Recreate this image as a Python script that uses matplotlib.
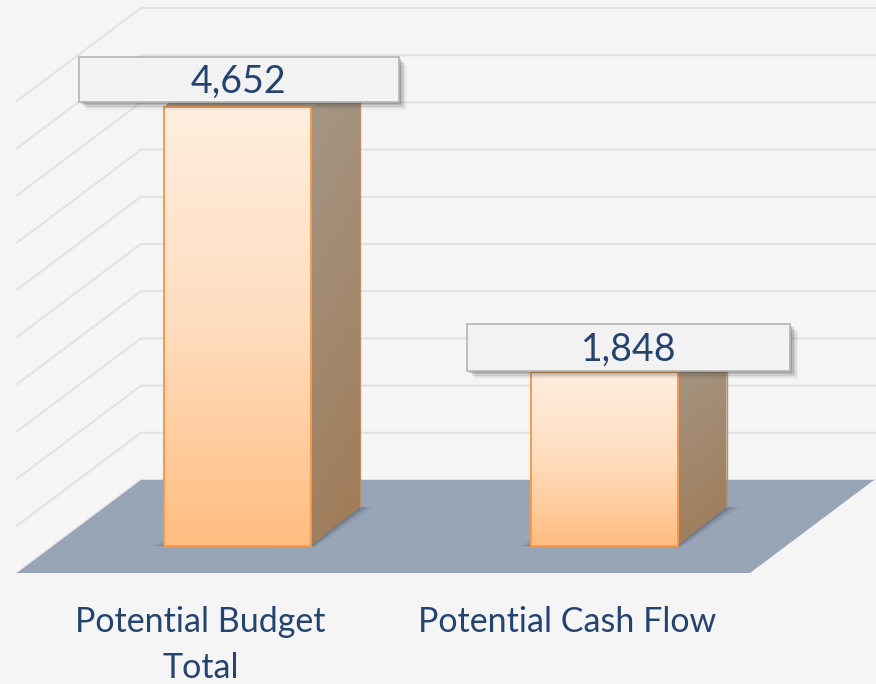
import numpy as np
import matplotlib
matplotlib.use("Agg")
import matplotlib.pyplot as plt
from matplotlib.colors import LinearSegmentedColormap
from matplotlib.patches import Polygon, Rectangle

# ---- data ----
categories = ["Potential Budget\nTotal", "Potential Cash Flow"]
values = [4652, 1848]
value_labels = ["4,652", "1,848"]
grid_values = list(range(0, 5001, 500))

# ---- layout (pixel scale of the axes) ----
W, H = 876, 684
PX_X = 366.5            # px per category step
PX_Y = 0.0944           # px per value unit
X0_PX, Y0_PX = 237.5, 546.0   # position of category 0 / value 0
DEPTH_X, DEPTH_Y = 49.0, 39.0 # px shift of one bar depth
BAR_W = 147 / PX_X
BG = "#F5F5F5"
TXT = "#24446F"
FONT = "Lato"

fig = plt.figure(figsize=(W / 100, H / 100), dpi=100, facecolor=BG)
ax = fig.add_axes([0, 0, 1, 1])
ax.set_xlim(-X0_PX / PX_X, (W - X0_PX) / PX_X)
ax.set_ylim(-(H - Y0_PX) / PX_Y, Y0_PX / PX_Y)
ax.axis("off")


def proj(c, v, d=0.0):
    """Category, value, depth to data coordinates of the oblique view."""
    return c + d * DEPTH_X / PX_X, v + d * DEPTH_Y / PX_Y


def dx(px):
    return px / PX_X


def dy(px):
    return px / PX_Y


BACK_DY = dy(66)          # rise of the back wall above the bar plane
FRONT_DY = dy(-27)        # floor front edge below the bar plane
L_FRONT, R_FRONT = (17 - X0_PX) / PX_X, (750 - X0_PX) / PX_X
DEPTH_SHIFT = dx(124)     # horizontal run of the floor, front to back

# walls / grid
for v in grid_values:
    xs = [L_FRONT, L_FRONT + DEPTH_SHIFT, (W + 2 - X0_PX) / PX_X]
    ys = [v + FRONT_DY, v + BACK_DY, v + BACK_DY]
    ax.plot(xs, ys, color="#E2E2E2", lw=1.5, zorder=1, solid_joinstyle="miter")

# floor
floor = [(L_FRONT, FRONT_DY), (R_FRONT, FRONT_DY),
         (R_FRONT + DEPTH_SHIFT, BACK_DY), (L_FRONT + DEPTH_SHIFT, BACK_DY)]
ax.add_patch(Polygon(floor, closed=True, fc="#98A5B7", ec="none", zorder=2))

front_cmap = LinearSegmentedColormap.from_list("front", ["#FFEEDF", "#FFDDBF", "#FFBD80"])
side_cmap = LinearSegmentedColormap.from_list("side", ["#A59889", "#A07A55"])
EDGE = "#F59A4E"

for i, val in enumerate(values):
    l, r = i - BAR_W / 2, i + BAR_W / 2
    # floor shadow
    for k, a in zip((14, 10, 6, 3), (0.08, 0.12, 0.18, 0.24)):
        shadow = [proj(l - dx(k), 0), proj(l, dy(k * .35)), proj(r, dy(k * .35)), proj(r, 0, 1),
                  proj(r + dx(k), 0, 1), proj(r + dx(k * .3), dy(-k * .1))]
        ax.add_patch(Polygon(shadow, closed=True, fc="#3F4C5E", ec="none", alpha=a, zorder=3))
    # top face
    ax.add_patch(Polygon([proj(l, val), proj(r, val), proj(r, val, 1), proj(l, val, 1)],
                         closed=True, fc="#A89A8A", ec="none", zorder=4))
    # side face with gradient
    side_poly = Polygon([proj(r, 0), proj(r, 0, 1), proj(r, val, 1), proj(r, val)],
                        closed=True, fc="none", ec="none", transform=ax.transData)
    ax.add_patch(side_poly)
    sx = np.linspace(0, 1, 64)
    sy = np.linspace(1, 0, 256)
    grid = np.outer(1 - sy, np.ones(64)) * 0.85 + np.outer(np.ones(256), sx) * 0.15
    im = ax.imshow(grid, cmap=side_cmap, vmin=0, vmax=1, aspect="auto", zorder=5,
                   extent=[r, r + dx(DEPTH_X), 0, val + dy(DEPTH_Y)], origin="upper")
    im.set_clip_path(side_poly)
    ax.plot([r + dx(DEPTH_X), r + dx(DEPTH_X)], [dy(DEPTH_Y), val + dy(DEPTH_Y)],
            color="#BD8F62", lw=1.0, zorder=6)
    # front face with gradient
    grad = np.linspace(0, 1, 256).reshape(-1, 1)
    ax.imshow(grad, cmap=front_cmap, vmin=0, vmax=1, aspect="auto", zorder=7,
              extent=[l, r, 0, val], origin="upper")
    ax.add_patch(Rectangle((l, 0), r - l, val, fc="none", ec=EDGE, lw=1.4, zorder=8))

# value label boxes
label_cx = [(238.5 - X0_PX) / PX_X, (628.5 - X0_PX) / PX_X]
label_w = [320 / PX_X, 323 / PX_X]
label_gap = [5, 1]
box_h = [45, 47]
for i, (val, lab) in enumerate(zip(values, value_labels)):
    left = label_cx[i] - label_w[i] / 2
    bottom = val + dy(label_gap[i])
    for k, a in zip((8, 6.5, 5, 3.5, 2), (0.05, 0.08, 0.11, 0.14, 0.18)):
        ax.add_patch(Rectangle((left + dx(k), bottom - dy(k)), label_w[i], dy(box_h[i]),
                               fc="#404040", ec="none", alpha=a, zorder=9))
    ax.add_patch(Rectangle((left, bottom), label_w[i], dy(box_h[i]), fc="#F2F2F2",
                           ec="#B4B4B4", lw=1.2, zorder=10))
    ax.text(label_cx[i], bottom + dy(box_h[i] / 2 + 1), lab, ha="center",
            va="center_baseline", fontsize=27, color=TXT, family=FONT, zorder=11)

# category labels
LINE_STEP = 46
for i, cat in enumerate(categories):
    for j, line in enumerate(cat.split("\n")):
        ax.text(i - dx(37), dy(-86 - j * LINE_STEP), line, ha="center", va="baseline",
                fontsize=24.5, color=TXT, family=FONT, zorder=11)

ax.set_xlim(-X0_PX / PX_X, (W - X0_PX) / PX_X)
ax.set_ylim(-(H - Y0_PX) / PX_Y, Y0_PX / PX_Y)
fig.savefig("out.png", dpi=100, facecolor=BG)
